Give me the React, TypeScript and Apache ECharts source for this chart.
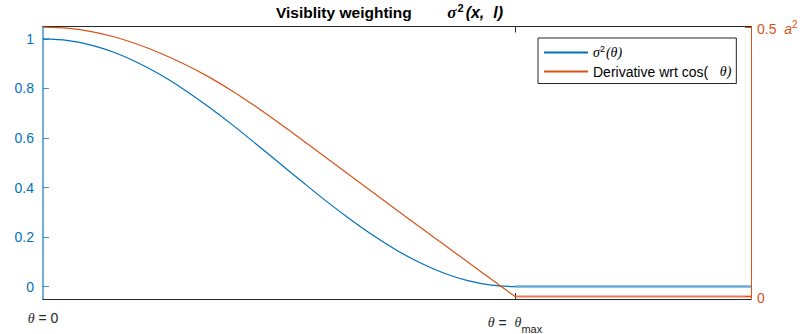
import React, { useEffect, useRef } from "react";
import * as echarts from "echarts";

// theta as a fraction of theta_max
const thetaFrac = [0, 0.05, 0.1, 0.15, 0.2, 0.25, 0.3, 0.35, 0.4, 0.45, 0.5, 0.55, 0.6, 0.65, 0.7, 0.75, 0.8, 0.85, 0.9, 0.95, 1.0];
const sigmaSq = [1.0, 0.994, 0.976, 0.946, 0.905, 0.854, 0.794, 0.727, 0.655, 0.578, 0.5, 0.422, 0.345, 0.273, 0.206, 0.146, 0.095, 0.054, 0.024, 0.006, 0.0];
const derivCos = [0.5, 0.498, 0.492, 0.482, 0.468, 0.451, 0.431, 0.408, 0.382, 0.353, 0.322, 0.29, 0.2575, 0.225, 0.1925, 0.16, 0.128, 0.096, 0.064, 0.032, 0.0];
const tailTheta = [1.0, 1.5];
const tailSigma = [0, 0];
const tailDeriv = [0, 0];
const leftTicks = [0, 0.2, 0.4, 0.6, 0.8, 1];
const rightTicks = [0, 0.5];
const xTicks = [0, 1];

const BLUE = "#0072BD";
const ORANGE = "#D95319";
const FONT = "Liberation Sans, Arial, sans-serif";
const SERIF = "Liberation Serif, DejaVu Serif, serif";

export default function App() {
  const ref = useRef<HTMLDivElement>(null);
  useEffect(() => {
    if (!ref.current) return;
    const chart = echarts.init(ref.current, undefined, { renderer: "svg" });
    const blue = thetaFrac.map((t, i) => [t, sigmaSq[i]]);
    const orange = thetaFrac.map((t, i) => [t, derivCos[i]]);
    chart.setOption({
      animation: false,
      backgroundColor: "#fff",
      title: {
        left: 271,
        top: -3,
        text: "{b|Visiblity weighting}{sp|        }{s|σ}{sup|2}{bi|(x,  l)}",
        textStyle: {
          rich: {
            b: { fontFamily: FONT, fontWeight: "bold", fontSize: 15.5, color: "#000" },
            sp: { fontFamily: FONT, fontSize: 16 },
            s: { fontFamily: SERIF, fontStyle: "italic", fontWeight: "bold", fontSize: 17, color: "#000" },
            sup: { fontFamily: FONT, fontWeight: "bold", fontSize: 11, color: "#000", padding: [0, 2, 9, 1] },
            bi: { fontFamily: FONT, fontStyle: "italic", fontWeight: "bold", fontSize: 16, color: "#000" },
          },
        },
      },
      legend: {
        left: 538,
        top: 38,
        orient: "vertical",
        data: ["sigma", "deriv"],
        backgroundColor: "#fff",
        borderColor: "#262626",
        borderWidth: 1,
        padding: [6, 5, 5, 5],
        itemGap: 5,
        itemWidth: 44,
        itemHeight: 14,
        selectedMode: false,
        itemStyle: { opacity: 0 },
        formatter: (name: string) =>
          name === "sigma" ? "{g|σ}{sup|2}{g|(θ)}" : "{t|Derivative wrt cos(   }{g|θ)}",
        textStyle: {
          rich: {
            t: { fontFamily: FONT, fontSize: 14, color: "#000" },
            g: { fontFamily: SERIF, fontStyle: "italic", fontSize: 14, color: "#000" },
            sup: { fontFamily: FONT, fontSize: 9, color: "#000", padding: [0, 1, 8, 0] },
          },
        },
      },
      grid: { left: 43, right: 56, top: 26.5, bottom: 32.5, containLabel: false },
      xAxis: [
        {
          type: "value",
          min: 0,
          max: 1.5,
          position: "bottom",
          axisLine: { show: true, onZero: false, lineStyle: { color: "#262626", width: 1 } },
          axisTick: { show: true, inside: true, length: 6, customValues: [1], lineStyle: { color: "#262626" } },
          splitLine: { show: false },
          axisLabel: {
            customValues: xTicks,
            margin: 12,
            formatter: (v: number) => (v === 0 ? "{g|θ}{t| = 0}" : "{g|θ}{t| =  }{g|θ}{sub|max}"),
            rich: {
              t: { fontFamily: FONT, fontSize: 14, color: "#262626" },
              g: { fontFamily: SERIF, fontStyle: "italic", fontSize: 14, color: "#262626" },
              sub: { fontFamily: FONT, fontSize: 11, color: "#262626", padding: [12, 0, 0, 0] },
            },
          },
        },
        {
          type: "value",
          min: 0,
          max: 1.5,
          position: "top",
          axisLine: { show: true, onZero: false, lineStyle: { color: "#262626", width: 1 } },
          axisTick: { show: true, inside: true, length: 6, customValues: [1], lineStyle: { color: "#262626" } },
          splitLine: { show: false },
          axisLabel: { show: false },
        },
      ],
      yAxis: [
        {
          type: "value",
          min: -0.05,
          max: 1.05,
          position: "left",
          axisLine: { show: true, onZero: false, lineStyle: { color: BLUE, width: 1.5, opacity: 0.75 } },
          axisTick: { show: true, inside: true, length: 6, customValues: leftTicks, lineStyle: { color: BLUE, opacity: 0.75 } },
          splitLine: { show: false },
          axisLabel: {
            customValues: leftTicks,
            margin: 9,
            color: BLUE,
            fontFamily: FONT,
            fontSize: 14,
            formatter: (v: number) => String(Math.round(v * 10) / 10),
          },
        },
        {
          type: "value",
          min: -0.0046,
          max: 0.501,
          position: "right",
          axisLine: { show: true, onZero: false, lineStyle: { color: ORANGE, width: 1 } },
          axisTick: { show: true, inside: true, length: 6, customValues: rightTicks, lineStyle: { color: ORANGE } },
          splitLine: { show: false },
          axisLabel: {
            customValues: rightTicks,
            margin: 6,
            color: ORANGE,
            formatter: (v: number) => (v === 0 ? "{n|0}" : "{n|0.5  }{a|a}{sup|2}"),
            rich: {
              n: { fontFamily: FONT, fontSize: 14, color: ORANGE, padding: [3, 0, 0, 0] },
              a: { fontFamily: FONT, fontStyle: "italic", fontSize: 14, color: ORANGE, padding: [3, 0, 0, 0] },
              sup: { fontFamily: FONT, fontSize: 10, color: ORANGE, padding: [0, 0, 6, 0] },
            },
          },
        },
      ],
      series: [
        {
          name: "sigma",
          type: "line",
          xAxisIndex: 0,
          yAxisIndex: 0,
          data: blue,
          symbol: "none",
          smooth: 0.25,
          color: BLUE,
          lineStyle: { color: BLUE, width: 1.2 },
        },
        {
          name: "deriv",
          type: "line",
          xAxisIndex: 0,
          yAxisIndex: 1,
          data: orange,
          symbol: "none",
          smooth: 0.25,
          color: ORANGE,
          lineStyle: { color: ORANGE, width: 1.2 },
        },
        {
          name: "sigmaTail",
          type: "line",
          yAxisIndex: 0,
          data: tailTheta.map((t, i) => [t, tailSigma[i]]),
          symbol: "none",
          lineStyle: { color: BLUE, width: 2.5, opacity: 0.6 },
        },
        {
          name: "derivTail",
          type: "line",
          yAxisIndex: 1,
          data: tailTheta.map((t, i) => [t, tailDeriv[i]]),
          symbol: "none",
          lineStyle: { color: ORANGE, width: 2, opacity: 0.75 },
        },
      ],
    });
    return () => chart.dispose();
  }, []);
  return (
    <div
      ref={ref}
      style={{ position: "fixed", left: 0, top: 0, width: 807, height: 334, background: "#fff" }}
    />
  );
}
